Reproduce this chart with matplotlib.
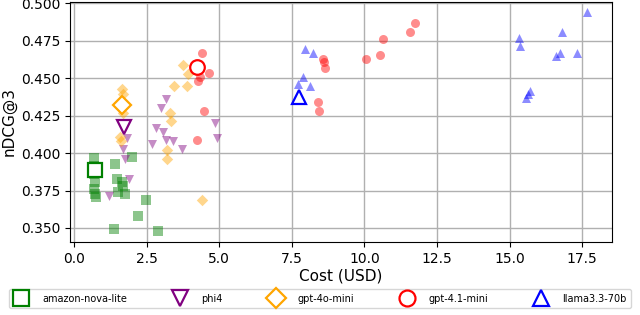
import matplotlib
matplotlib.use("Agg")
import matplotlib.pyplot as plt
from matplotlib.lines import Line2D

# model names, colours and markers
models = ["amazon-nova-lite", "phi4", "gpt-4o-mini", "gpt-4.1-mini", "llama3.3-70b"]
colors = ["green", "purple", "orange", "red", "blue"]
markers = ["s", "v", "D", "o", "^"]

# individual runs (cost in USD, nDCG@3)
nova_cost = [0.70, 0.70, 0.70, 0.72, 0.70, 0.72, 0.76, 1.41, 2.00, 1.47, 1.64, 1.70, 1.75, 1.52,
             2.48, 2.21, 1.38, 2.88]
nova_ndcg = [0.397, 0.3915, 0.386, 0.3805, 0.376, 0.373, 0.3705, 0.393, 0.3975, 0.3827, 0.3805,
             0.3782, 0.3727, 0.3738, 0.369, 0.358, 0.3493, 0.348]

phi_cost = [1.21, 1.67, 1.75, 1.81, 1.90, 2.67, 2.81, 2.98, 3.07, 3.15, 3.15, 3.42, 3.70, 4.85, 4.91]
phi_ndcg = [0.3715, 0.403, 0.396, 0.410, 0.383, 0.406, 0.417, 0.430, 0.414, 0.436, 0.409, 0.408,
            0.403, 0.420, 0.410]

g4o_cost = [1.58, 1.62, 1.64, 1.70, 1.70, 3.19, 3.19, 3.30, 3.34, 3.44, 3.76, 3.88, 3.93, 4.40]
g4o_ndcg = [0.411, 0.408, 0.443, 0.4395, 0.427, 0.402, 0.396, 0.427, 0.4215, 0.445, 0.459, 0.445,
            0.4527, 0.3687]

g41_cost = [4.22, 4.28, 4.33, 4.39, 4.47, 4.65, 8.40, 8.44, 8.58, 8.61, 8.63, 10.07, 10.53, 10.64,
            11.56, 11.73]
g41_ndcg = [0.4087, 0.4482, 0.4507, 0.4665, 0.4282, 0.4531, 0.4342, 0.4282, 0.4631, 0.4605, 0.4565,
            0.4627, 0.4653, 0.476, 0.4805, 0.4865]

llama_cost = [7.72, 7.89, 7.95, 8.12, 8.23, 15.32, 15.37, 15.57, 15.63, 15.69, 16.58, 16.72, 16.80,
              17.31, 17.67]
llama_ndcg = [0.446, 0.4505, 0.4693, 0.4449, 0.4665, 0.4771, 0.4715, 0.437, 0.4393, 0.4415, 0.4649,
              0.4665, 0.4805, 0.4671, 0.4938]

# highlighted (hollow) point per model
best_cost = [0.72, 1.73, 1.64, 4.24, 7.74]
best_ndcg = [0.3887, 0.4175, 0.432, 0.4575, 0.4375]

all_cost = [nova_cost, phi_cost, g4o_cost, g41_cost, llama_cost]
all_ndcg = [nova_ndcg, phi_ndcg, g4o_ndcg, g41_ndcg, llama_ndcg]

fig = plt.figure(figsize=(6.4, 3.15), dpi=100)
ax = fig.add_axes([0.109, 0.232, 0.847, 0.763])

for c, m, xs, ys in zip(colors, markers, all_cost, all_ndcg):
    ax.scatter(xs, ys, s=42 if m != "D" else 34, marker=m, color=c, alpha=0.45,
               linewidths=0, zorder=2)

handles = []
for i, (name, c, m) in enumerate(zip(models, colors, markers)):
    ax.plot(best_cost[i], best_ndcg[i], marker=m, markersize=10.5 if m != "D" else 9.5,
            markerfacecolor="white", markeredgecolor=c, markeredgewidth=1.6,
            linestyle="none", zorder=4)
    handles.append(Line2D([], [], marker=m, markersize=11.5 if m != "D" else 10.5,
                          markerfacecolor="white", markeredgecolor=c,
                          markeredgewidth=1.6, linestyle="none", label=name))

ax.grid(True, color="#b0b0b0", linewidth=1.0, zorder=0)
ax.set_axisbelow(True)
ax.tick_params(labelsize=10)
ax.set_xlabel("Cost (USD)", fontsize=11, labelpad=2)
ax.set_ylabel("nDCG@3", fontsize=11, labelpad=3)
ax.yaxis.set_major_formatter(matplotlib.ticker.FormatStrFormatter("%.3f"))

fig.legend(handles=handles, loc="lower left", ncol=5, mode="expand",
           bbox_to_anchor=(0.006, 0.006, 0.988, 0.085), fontsize=7,
           handletextpad=1.4, handlelength=1.6, borderpad=0.45, frameon=True)

fig.savefig("out.png", dpi=100)
